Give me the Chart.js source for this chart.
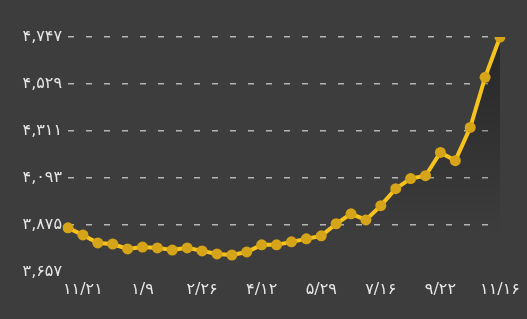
<!DOCTYPE html>
<html>
<head>
<meta charset="utf-8">
<script src="https://cdn.jsdelivr.net/npm/chart.js@4/dist/chart.umd.min.js"></script>
<style>
  html, body { margin: 0; padding: 0; background: #3d3d3d; }
  #wrap { width: 527px; height: 319px; }
</style>
</head>
<body>
<div id="wrap"><canvas id="priceChart" width="527" height="319"></canvas></div>
<script>
// Valeurs (30 points)
var prices = [3861, 3828, 3791, 3786, 3763, 3772, 3768, 3758, 3768, 3754,
              3740, 3735, 3749, 3782, 3782, 3796, 3810, 3824, 3880, 3926,
              3898, 3964, 4043, 4090, 4103, 4211, 4173, 4327, 4560, 4747];

// Étiquettes de l'axe X (une tous les 4 points, à partir de l'indice 1)
var xTickLabels = ['۱۱/۲۱', '۱/۹', '۲/۲۶', '۴/۱۲', '۵/۲۹', '۷/۱۶', '۹/۲۲', '۱۱/۱۶'];
var categories = prices.map(function (v, i) {
    return (i % 4 === 1) ? xTickLabels[(i - 1) / 4] : '';
});

// Graduations de l'axe Y
var yTickValues = [3657, 3875, 4093, 4311, 4529, 4747];
var yTickLabels = ['۳,۶۵۷', '۳,۸۷۵', '۴,۰۹۳', '۴,۳۱۱', '۴,۵۲۹', '۴,۷۴۷'];

var ctx = document.getElementById('priceChart').getContext('2d');
var shade = ctx.createLinearGradient(0, 37, 0, 232);
shade.addColorStop(0, 'rgba(0, 0, 0, 0.36)');
shade.addColorStop(1, 'rgba(0, 0, 0, 0)');

var labelFont = { family: 'DejaVu Sans', size: 16 };

new Chart(ctx, {
    type: 'line',
    data: {
        labels: categories,
        datasets: [{
            data: prices,
            borderColor: '#f7c21c',
            borderWidth: 4,
            backgroundColor: shade,
            fill: 'start',
            tension: 0,
            pointRadius: 5.5,
            pointBackgroundColor: '#d6a418',
            pointBorderWidth: 0
        }]
    },
    options: {
        responsive: false,
        animation: false,
        layout: { padding: { top: 37, right: 27, bottom: 20, left: 0 } },
        plugins: { legend: { display: false }, tooltip: { enabled: false } },
        scales: {
            x: {
                offset: false,
                grid: { display: false },
                border: { display: false },
                ticks: {
                    autoSkip: false,
                    maxRotation: 0,
                    color: '#e6e6e6',
                    font: labelFont,
                    padding: 0
                }
            },
            y: {
                min: 3657,
                max: 4747,
                afterBuildTicks: function (axis) {
                    axis.ticks = yTickValues.map(function (v) { return { value: v }; });
                },
                afterFit: function (axis) { axis.width = 68; },
                grid: {
                    color: function (c) { return c.tick && c.tick.value === 3657 ? 'rgba(0,0,0,0)' : '#b5b5b5'; },
                    lineWidth: 1.5,
                    drawTicks: false
                },
                border: { display: false, dash: [6, 12] },
                ticks: {
                    color: '#e6e6e6',
                    font: labelFont,
                    padding: 6,
                    callback: function (value) {
                        var i = yTickValues.indexOf(value);
                        return i >= 0 ? yTickLabels[i] : '';
                    }
                }
            }
        }
    }
});
</script>
</body>
</html>
